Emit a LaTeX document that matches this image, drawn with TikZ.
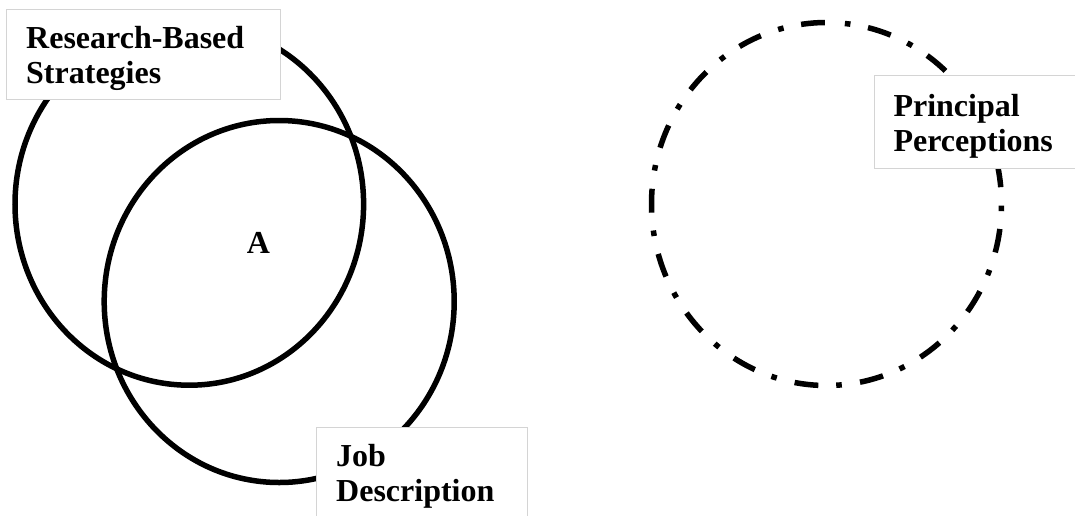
\documentclass[tikz,border=0pt]{standalone}
\usepackage{fontspec}
\setmainfont{Liberation Serif}
\begin{document}
\begin{tikzpicture}[x=1pt,y=-1pt,
  ring/.style={line width=5.5pt},
  dashring/.style={line width=5.5pt, dash pattern=on 23.9pt off 18.4pt on 5.6pt off 17.9pt, dash phase=23.9pt},
  labelbox/.style={draw=black!17, line width=1pt, fill=white, inner sep=0pt, anchor=north west},
  labeltext/.style={font=\fontsize{32}{35.5}\selectfont\bfseries, align=left, anchor=base west, inner sep=0pt}]
\path[use as bounding box, clip] (0,0) rectangle (1075,515);
% circles
\draw[ring] (189.3,204.2) ellipse [x radius=174.3, y radius=181];
\draw[ring] (279.2,301.5) ellipse [x radius=175, y radius=181];
\coordinate (pptop) at (826.5,22.5);
\draw[dashring] (pptop) arc[start angle=270, end angle=630, x radius=175, y radius=181.5];
% label boxes
\node[labelbox, minimum width=274pt, minimum height=90pt] (rbsbox) at (6,9.3) {};
\node[labelbox, minimum width=211pt, minimum height=103pt] (jdbox) at (315.7,427.3) {};
\node[labelbox, minimum width=211pt, minimum height=93.8pt] (ppbox) at (874,74.5) {};
% texts (anchored at the baseline of the last line)
\node[labeltext] (rbs) at (26,83.5) {Research-Based\\Strategies};
\node[labeltext] (pp) at (893.3,151.5) {Principal\\Perceptions};
\node[labeltext] (jd) at (336,501.5) {Job\\Description};
\node[labeltext] (a) at (246.7,253.3) {A};
\end{tikzpicture}
\end{document}
